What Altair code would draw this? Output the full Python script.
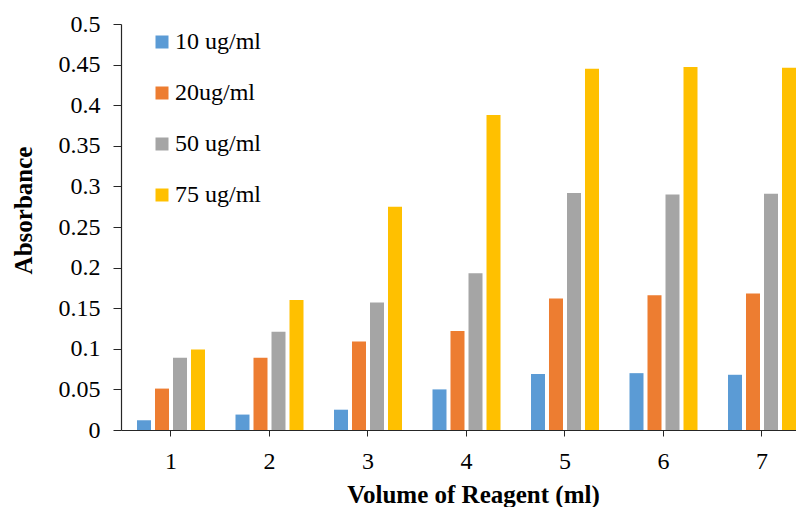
import altair as alt
import pandas as pd

volumes = [1, 2, 3, 4, 5, 6, 7]
series = ["10 ug/ml", "\u00a020ug/ml", "50 ug/ml", "75 ug/ml"]
c10 = [0.012, 0.019, 0.025, 0.050, 0.069, 0.070, 0.068]
c20 = [0.051, 0.089, 0.109, 0.122, 0.162, 0.166, 0.168]
c50 = [0.089, 0.121, 0.157, 0.193, 0.292, 0.290, 0.291]
c75 = [0.099, 0.160, 0.275, 0.388, 0.445, 0.447, 0.446]
colors = ["#5B9BD5", "#ED7D31", "#A5A5A5", "#FFC000"]
y_ticks = [0, 0.05, 0.1, 0.15, 0.2, 0.25, 0.3, 0.35, 0.4, 0.45, 0.5]

rows = []
for name, vals in zip(series, [c10, c20, c50, c75]):
    for v, a in zip(volumes, vals):
        rows.append({"Volume": str(v), "Series": name, "Absorbance": a})
df = pd.DataFrame(rows)

FONT = "Liberation Serif, Times New Roman, serif"
AXIS_COLOR = "#262626"

chart = alt.Chart(df).mark_bar().encode(
    x=alt.X("Volume:N",
            scale=alt.Scale(paddingInner=0.3096, paddingOuter=0.0812,
                            align=1, round=False),
            axis=alt.Axis(title="Volume of Reagent (ml)", labelAngle=0,
                          labelFont=FONT, labelFontSize=24, labelColor="black",
                          labelPadding=13, tickSize=6, tickColor=AXIS_COLOR,
                          domainColor=AXIS_COLOR, domainWidth=1.2,
                          titleFont=FONT, titleFontSize=25, titleFontWeight="bold",
                          titleColor="black", titleX=352, titleY=72,
                          titleBaseline="alphabetic", titleAlign="center")),
    xOffset=alt.XOffset("Series:N", sort=series,
                        scale=alt.Scale(paddingInner=0.2222, paddingOuter=0)),
    y=alt.Y("Absorbance:Q",
            scale=alt.Scale(domain=[0, 0.5], nice=False),
            axis=alt.Axis(title="Absorbance", values=y_ticks, format="~g",
                          grid=False, labelFont=FONT, labelFontSize=24,
                          labelColor="black", labelPadding=13, tickSize=8,
                          tickColor=AXIS_COLOR, domainColor=AXIS_COLOR,
                          domainWidth=1.2, titleFont=FONT, titleFontSize=25,
                          titleFontWeight="bold", titleColor="black",
                          titleX=-98, titleY=186, titleAngle=-90,
                          titleAlign="center", titleBaseline="middle")),
    color=alt.Color("Series:N", sort=series,
                    scale=alt.Scale(domain=series, range=colors),
                    legend=alt.Legend(title=None, orient="none", legendX=29,
                                      legendY=6, symbolType="square",
                                      symbolSize=169, symbolStrokeWidth=0,
                                      labelFont=FONT, labelFontSize=24,
                                      labelColor="black", labelOffset=1,
                                      rowPadding=27, padding=0)),
).properties(
    width=675, height=406,
    autosize=alt.AutoSizeParams(type="none"),
    padding={"left": 113, "top": 16, "right": 0, "bottom": 84},
).configure_view(stroke=None)

chart.save("out.html", embed_options={"renderer": "svg", "actions": False})
